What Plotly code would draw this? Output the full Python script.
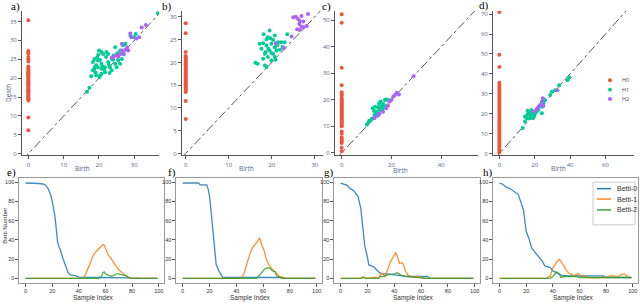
import plotly.graph_objects as go

W, H = 640, 307
def px(x): return x / W
def py(y): return 1 - y / H

# ---------------- persistence diagrams (top row) ----------------
# panel a
a_h0_death = [35.3, 27.2, 26.9, 26.5, 25.6, 25.0, 24.4, 23.1, 22.6, 22.2, 21.9, 21.6, 21.3, 21.0, 20.7,
              20.4, 20.1, 19.8, 19.5, 19.2, 18.9, 18.6, 18.3, 18.0, 17.7, 17.4, 17.1, 16.8, 16.5, 16.2,
              15.9, 15.6, 15.3, 15.0, 14.7, 14.4, 14.1, 9.6, 6.2]
a_h1_birth = [36.7, 16.6, 17.3, 17.8, 18.3, 18.7, 19.2, 19.7, 20.0, 20.7, 21.2, 22.1, 22.6, 19.2, 20.2,
              20.7, 21.7, 24.6, 26.0, 27.5, 28.0, 28.9, 30.4, 29.9, 23.6, 22.6, 24.6, 25.5, 21.7, 23.1,
              24.1, 20.7, 18.3, 18.7, 19.7, 20.7, 26.5, 27.0, 26.0, 25.0, 23.6, 19.0, 19.5, 20.3, 21.0,
              22.0, 23.0, 24.0, 19.8, 21.5, 22.8, 18.9, 20.1, 25.2, 26.8]
a_h1_death = [37.2, 16.4, 17.5, 20.5, 22.1, 22.5, 23.4, 24.7, 27.3, 26.9, 26.4, 26.9, 26.4, 20.8, 20.3,
              21.2, 21.6, 28.2, 27.3, 29.1, 27.7, 31.2, 31.7, 30.8, 25.1, 24.3, 23.8, 24.7, 22.9, 22.9,
              26.0, 23.8, 24.3, 25.1, 22.9, 22.5, 25.1, 26.4, 23.8, 22.9, 22.1, 21.5, 25.5, 24.8, 23.1,
              25.6, 21.4, 24.9, 26.2, 22.3, 23.6, 23.0, 20.6, 26.6, 28.7]
a_h2_birth = [33.3, 32.1, 28.9, 29.2, 30.6, 31.4, 26.5, 27.5, 27.0, 26.0, 25.0, 24.1, 23.6, 28.0, 25.5,
              26.5, 28.3]
a_h2_death = [34.1, 33.4, 31.8, 30.8, 30.5, 30.8, 29.1, 27.5, 26.4, 26.4, 26.0, 25.6, 25.4, 28.2, 25.7,
              27.3, 27.3]

# panel b
b_h0_death = [28.6, 26.4, 22.3, 21.4, 21.1, 20.8, 20.5, 20.2, 19.9, 19.6, 19.3, 19.0, 18.7, 18.4, 18.1,
              17.8, 17.5, 17.2, 16.9, 16.6, 16.3, 16.0, 15.7, 15.4, 15.1, 14.8, 14.5, 14.2, 13.9, 13.5,
              11.5, 7.6]
b_h1_birth = [16.2, 16.7, 18.0, 18.4, 18.8, 18.1, 19.5, 19.1, 20.7, 18.0, 17.2, 18.8, 19.9, 20.7, 19.5,
              18.4, 20.3, 21.1, 21.5, 22.2, 19.1, 19.9, 20.7, 21.9, 23.0, 23.6, 18.8, 20.3, 17.6, 19.2,
              20.0, 21.3, 18.6, 19.7, 20.9, 22.5]
b_h1_death = [19.9, 19.7, 20.8, 19.3, 19.0, 26.2, 27.0, 25.5, 25.9, 24.2, 24.1, 23.7, 24.1, 23.3, 22.6,
              21.9, 21.9, 22.6, 24.4, 24.4, 21.2, 20.4, 21.2, 22.8, 24.4, 26.2, 25.1, 24.9, 23.0, 23.0,
              22.0, 23.8, 22.3, 25.3, 20.6, 23.4]
b_h2_birth = [24.6, 25.0, 25.6, 26.1, 26.5, 26.9, 27.3, 26.4, 26.9, 27.4, 28.1, 25.9, 28.4, 26.5, 20.9,
              22.8]
b_h2_death = [25.7, 29.9, 30.0, 29.5, 29.1, 30.2, 29.0, 28.4, 27.8, 27.7, 28.0, 27.3, 30.6, 27.1, 24.2,
              23.1]

# panel c
c_h0_death = [52.2, 49.0, 32.1, 25.5, 22.8, 22.0, 21.5, 20.5, 20.0, 19.5, 19.0, 18.5, 18.0, 17.5, 17.0,
              16.5, 16.0, 15.5, 15.0, 14.5, 14.0, 13.5, 13.0, 12.5, 12.0, 11.5, 11.0, 10.5, 10.0, 8.0,
              7.2, 5.8, 5.0, 4.4, 3.7, 1.9, 0.6]
c_h1_birth = [10.1, 10.7, 11.5, 12.1, 12.9, 13.2, 13.8, 12.5, 13.4, 14.5, 15.2, 15.9, 15.6, 16.6, 17.3,
              17.9, 18.6, 14.2, 14.8, 16.6, 11.0, 13.0, 15.0, 17.0]
c_h1_death = [10.6, 11.4, 12.2, 12.8, 13.1, 14.3, 14.9, 16.8, 17.4, 17.2, 16.2, 17.4, 19.3, 18.4, 19.9,
              20.1, 19.9, 15.5, 14.3, 16.8, 12.0, 15.8, 18.5, 18.0]
c_h2_birth = [13.2, 14.2, 15.2, 16.6, 17.9, 18.6, 20.0, 20.7, 21.4, 22.1, 23.0, 19.3, 28.9]
c_h2_death = [13.1, 13.9, 14.7, 15.5, 16.8, 17.7, 19.9, 21.1, 21.8, 22.6, 22.0, 19.3, 28.9]

# panel d
d_h0_death = [71.0, 49.6, 43.4, 35.5, 34.5, 33.5, 32.5, 31.5, 30.5, 29.5, 28.5, 27.5, 26.5, 25.5, 24.5,
              23.5, 22.5, 21.5, 20.5, 19.5, 18.5, 17.5, 16.5, 15.5, 14.5, 13.5, 12.5, 11.5, 10.5, 9.5,
              8.5, 7.5, 6.5, 5.5, 4.5, 3.5, 2.5, 1.5, 0.5]
d_h1_birth = [13.2, 14.5, 15.5, 14.5, 16.4, 17.4, 18.3, 17.0, 19.2, 18.9, 20.2, 17.7, 15.8, 21.1, 22.1,
              24.0, 24.9, 25.8, 28.7, 29.6, 31.5, 33.8, 38.5, 39.6, 24.0, 16.0, 18.0, 19.8]
d_h1_death = [12.8, 16.1, 17.7, 18.6, 20.2, 19.4, 18.6, 17.7, 19.4, 17.7, 20.2, 20.6, 19.4, 21.1, 21.9,
              23.5, 25.2, 26.9, 29.4, 31.0, 31.8, 34.3, 36.8, 38.1, 20.2, 21.5, 21.8, 18.8]
d_h2_birth = [19.2, 20.8, 22.1, 23.0, 24.0, 24.5, 24.9, 32.8, 21.5]
d_h2_death = [21.1, 21.9, 23.5, 24.4, 26.0, 27.7, 23.9, 31.8, 22.6]

# ---------------- Betti curves (bottom row) ----------------
e_b0_x = [0, 5, 10, 13, 15, 17, 19, 20, 21, 22, 23, 24, 25, 26, 28, 30, 32, 34, 37, 40, 45, 55, 65, 75, 78, 79, 99]
e_b0_y = [99, 99, 98.5, 98, 97, 93, 86, 80, 72, 65, 52, 38, 33, 30, 21, 12.6, 5.8, 3.4, 3, 1.4, 1, 1, 1, 1, 0.5, 0, 0]
e_b1_x = [0, 43, 45, 47, 49, 51, 53, 55, 57, 58, 59, 60, 62, 64, 66, 68, 70, 72, 74, 76, 78, 80, 83, 84, 85, 99]
e_b1_y = [0, 0, 4, 11, 17.7, 24.5, 28, 31, 34, 35, 34.7, 31, 24.5, 21, 16, 12.6, 9, 6.8, 4.8, 2.4, 0, 0, 0, 1, 0, 0]
e_b2_x = [0, 55, 57, 58, 59, 60, 62, 64, 66, 68, 70, 72, 74, 76, 78, 80, 99]
e_b2_y = [0, 0, 2.4, 5.8, 6.8, 4.8, 3.4, 2.4, 3, 4.8, 4.8, 4, 3.4, 2.4, 0.7, 0, 0]

f_b0_x = [0, 12, 13, 18, 19, 20, 21, 22, 23, 24, 25, 27, 29, 30, 50, 75, 76, 99]
f_b0_y = [99, 99, 97, 97, 93, 86, 72.7, 59, 42, 25, 14.7, 7.8, 2.7, 1, 1, 1, 0, 0]
f_b1_x = [0, 44, 46, 48, 50, 52, 54, 56, 57, 58, 59, 61, 62, 64, 66, 68, 70, 72, 74, 76, 99]
f_b1_y = [0, 0, 6, 16, 25, 31.7, 35, 38.6, 42, 40, 35, 28, 21.5, 14.7, 11, 8, 5, 2.7, 1, 0, 0]
f_b2_x = [0, 55, 57, 59, 61, 63, 65, 67, 69, 70, 72, 74, 99]
f_b2_y = [0, 0, 2.7, 6, 9.5, 11, 10.6, 7.8, 7, 2.7, 1, 0, 0]

g_b0_x = [0, 3, 5, 7, 9, 11, 13, 15, 16, 17, 18, 20, 21, 23, 25, 27, 29, 31, 35, 40, 45, 50, 65, 67, 99]
g_b0_y = [99, 98, 96.6, 93, 92, 88.8, 85, 73, 60, 43, 34, 22, 14, 13, 11.6, 8.8, 6, 4.8, 4.8, 3.7, 2.7, 2, 2, 0, 0]
g_b1_x = [0, 15, 17, 19, 25, 28, 31, 33, 35, 37, 39, 40, 41, 42, 43, 44, 46, 47, 48, 50, 52, 55, 58, 60, 62, 99]
g_b1_y = [0, 0, 1.4, 0, 1.4, 0.5, 5.4, 2, 8.8, 17, 22, 25, 26.5, 24, 19, 15.6, 16.3, 14, 8.8, 3.7, 2, 1.4, 2, 1.4, 0, 0]
g_b2_x = [0, 15, 17, 19, 28, 30, 33, 35, 40, 42, 45, 50, 55, 60, 63, 99]
g_b2_y = [0, 0, 1, 0, 0, 2, 2.5, 3.7, 4.8, 6, 3.4, 2, 1.4, 1, 0, 0]

h_b0_x = [0, 2, 4, 6, 8, 10, 12, 14, 16, 18, 20, 22, 24, 26, 28, 30, 32, 34, 36, 38, 40, 42, 44, 46, 48, 50, 78, 80, 99]
h_b0_y = [99, 98, 96, 94, 93, 91, 88.4, 87, 79, 70.7, 48.6, 41.8, 31.6, 28, 24.8, 21.4, 18, 13, 12, 11.2, 7.8, 6, 5, 3.4, 2.7, 2.7, 2.7, 1, 1]
h_b1_x = [0, 35, 37, 38, 40, 42, 44, 45, 46, 48, 50, 52, 54, 56, 58, 59, 61, 63, 66, 70, 75, 80, 83, 86, 89, 92, 94, 96, 98, 99]
h_b1_y = [0, 0, 2, 2, 11, 15.6, 19, 19.7, 18, 13.6, 8.8, 5.4, 4.4, 2.7, 4.4, 5.4, 2.7, 1.7, 1, 0.7, 1, 1, 2.7, 2.7, 1.7, 4.4, 4.4, 2, 0.7, 0.5]
h_b2_x = [0, 38, 40, 42, 43, 45, 46, 48, 58, 60, 99]
h_b2_y = [0, 0, 2, 6, 6.8, 4.4, 1, 2, 2, 1, 1]

hom_names = ["H0", "H1", "H2"]
hom_colors = ["#EF553B", "#00CC96", "#AB63FA"]
betti_names = ["Betti-0", "Betti-1", "Betti-2"]
betti_colors = ["#1f77b4", "#ff7f0e", "#2ca02c"]

top_panels = [
    (a_h0_death, a_h1_birth, a_h1_death, a_h2_birth, a_h2_death),
    (b_h0_death, b_h1_birth, b_h1_death, b_h2_birth, b_h2_death),
    (c_h0_death, c_h1_birth, c_h1_death, c_h2_birth, c_h2_death),
    (d_h0_death, d_h1_birth, d_h1_death, d_h2_birth, d_h2_death),
]
bottom_panels = [
    (e_b0_x, e_b0_y, e_b1_x, e_b1_y, e_b2_x, e_b2_y),
    (f_b0_x, f_b0_y, f_b1_x, f_b1_y, f_b2_x, f_b2_y),
    (g_b0_x, g_b0_y, g_b1_x, g_b1_y, g_b2_x, g_b2_y),
    (h_b0_x, h_b0_y, h_b1_x, h_b1_y, h_b2_x, h_b2_y),
]

# layout specs (pixel positions)
top_xdom = [(22, 159), (182, 323), (335, 478), (493, 634)]
top_xrange = [(-1.8, 37.0), (-0.86, 31.9), (-2.7, 54.8), (-3.6, 76.1)]
top_yrange = [(-0.45, 37.8), (-0.43, 31.3), (-1.0, 53.5), (-1.0, 71.6)]
top_xticks = [[0, 10, 20, 30], [0, 10, 20, 30], [0, 20, 40], [0, 20, 40, 60]]
top_yticks = [list(range(0, 40, 5)), list(range(0, 35, 5)), list(range(0, 60, 10)), list(range(0, 80, 10))]
top_ydom = (10, 156)

bot_xdom = [(19, 164), (176, 322), (334, 480), (493, 638)]
bot_ydom = (179, 285)
bot_range = (-4.95, 103.95)

fig = go.Figure()
layout = dict(width=W, height=H, margin=dict(l=0, r=0, t=0, b=0),
              paper_bgcolor="white", plot_bgcolor="white", showlegend=False)

slate = "#506784"
for i, (h0d, h1b, h1d, h2b, h2d) in enumerate(top_panels):
    n = i + 1
    xa = "x" if n == 1 else f"x{n}"
    ya = "y" if n == 1 else f"y{n}"
    lo = top_xrange[i][0]
    hi = top_xrange[i][1]
    fig.add_trace(go.Scatter(x=[lo, hi], y=[lo, hi], mode="lines", xaxis=xa, yaxis=ya,
                             line=dict(color="#555", width=1, dash="dashdot"), hoverinfo="skip"))
    fig.add_trace(go.Scatter(x=[0] * len(h0d), y=h0d, mode="markers", xaxis=xa, yaxis=ya, name="H0",
                             marker=dict(color=hom_colors[0], size=4)))
    fig.add_trace(go.Scatter(x=h1b, y=h1d, mode="markers", xaxis=xa, yaxis=ya, name="H1",
                             marker=dict(color=hom_colors[1], size=4)))
    fig.add_trace(go.Scatter(x=h2b, y=h2d, mode="markers", xaxis=xa, yaxis=ya, name="H2",
                             marker=dict(color=hom_colors[2], size=4)))
    common = dict(showline=True, linecolor="#555", linewidth=1, ticks="outside", ticklen=3,
                  tickcolor="#555", showgrid=False, zeroline=False,
                  tickfont=dict(size=6, color=slate, family="Open Sans"))
    layout["xaxis" if n == 1 else f"xaxis{n}"] = dict(
        domain=[px(top_xdom[i][0]), px(top_xdom[i][1])], range=list(top_xrange[i]),
        tickvals=top_xticks[i], anchor=ya, **common)
    layout["yaxis" if n == 1 else f"yaxis{n}"] = dict(
        domain=[py(top_ydom[1]), py(top_ydom[0])], range=list(top_yrange[i]),
        tickvals=top_yticks[i], anchor=xa, **common)

for i, (x0, y0, x1, y1, x2, y2) in enumerate(bottom_panels):
    n = i + 5
    xa, ya = f"x{n}", f"y{n}"
    for xs, ys, nm, col in [(x0, y0, betti_names[0], betti_colors[0]),
                            (x1, y1, betti_names[1], betti_colors[1]),
                            (x2, y2, betti_names[2], betti_colors[2])]:
        fig.add_trace(go.Scatter(x=xs, y=ys, mode="lines", xaxis=xa, yaxis=ya, name=nm,
                                 line=dict(color=col, width=1.3), opacity=0.85))
    common = dict(showline=True, mirror=True, linecolor="#999", linewidth=1.2, ticks="outside",
                  ticklen=2.5, tickcolor="#555", showgrid=False, zeroline=False,
                  tickvals=[0, 20, 40, 60, 80, 100], range=list(bot_range),
                  tickfont=dict(size=5.5, color="#333", family="Liberation Sans"))
    layout[f"xaxis{n}"] = dict(domain=[px(bot_xdom[i][0]), px(bot_xdom[i][1])], anchor=ya, **common)
    layout[f"yaxis{n}"] = dict(domain=[py(bot_ydom[1]), py(bot_ydom[0])], anchor=xa, **common)

fig.update_layout(**layout)

ann = []
def text(x, y, s, size, color, family, xanchor="center", angle=0):
    ann.append(dict(x=px(x), y=py(y), xref="paper", yref="paper", text=s, showarrow=False,
                    xanchor=xanchor, yanchor="middle", textangle=angle,
                    font=dict(size=size, color=color, family=family)))

for lab, x, y in [("a)", 9, 6), ("b)", 160, 6), ("c)", 320, 6), ("d)", 477, 5),
                  ("e)", 5, 173), ("f)", 166, 173), ("g)", 322, 173), ("h)", 481, 173)]:
    text(x, y, lab, 11, "black", "Liberation Serif", xanchor="left")
text(8, 93, "Death", 6.5, slate, "Open Sans", angle=-90)
for x, y in [(82, 169), (246, 169), (400, 171), (558, 169)]:
    text(x, y, "Birth", 6.5, slate, "Open Sans")
for x in [93, 250, 413, 573]:
    text(x, 300, "Sample Index", 6.5, "#333", "Liberation Sans")
text(5, 227, "Betti Number", 6.2, "#333", "Liberation Sans", angle=-90)

shapes = []
# top legend
for k, yy in enumerate([80, 89.5, 99]):
    shapes.append(dict(type="circle", xref="paper", yref="paper",
                       x0=px(608), x1=px(612), y0=py(yy + 2), y1=py(yy - 2),
                       fillcolor=hom_colors[k], line=dict(width=0)))
    text(620, yy, hom_names[k], 5.5, "#444", "Open Sans", xanchor="left")
# bottom legend
shapes.append(dict(type="rect", xref="paper", yref="paper", x0=px(593), x1=px(635),
                   y0=py(226), y1=py(183), fillcolor="white", line=dict(color="#ccc", width=1)))
for k, yy in enumerate([189.5, 200, 211]):
    shapes.append(dict(type="line", xref="paper", yref="paper", x0=px(597), x1=px(611),
                       y0=py(yy), y1=py(yy), line=dict(color=betti_colors[k], width=1.4)))
    text(615, yy, betti_names[k], 7, "#333", "Liberation Sans", xanchor="left")

fig.update_layout(annotations=ann, shapes=shapes)
fig.write_html("out.html", config={"displayModeBar": False},
               post_script="document.body.style.margin='0';document.body.style.overflow='hidden';")
